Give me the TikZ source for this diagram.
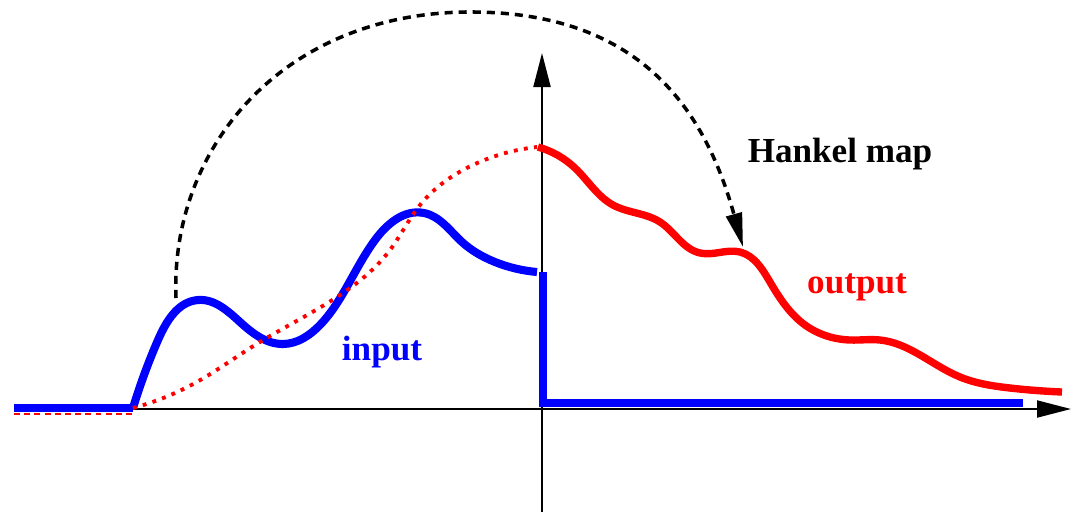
\documentclass[tikz,border=0pt]{standalone}
\usepackage{fontspec}
\setmainfont{Liberation Serif}
\usetikzlibrary{arrows.meta,hobby}
\tikzset{
  axisline/.style={line width=1.1pt, black, -{Triangle[length=0.68cm,width=0.34cm]}},
  inputline/.style={line width=4.6pt, blue},
  outputline/.style={line width=4.2pt, red, line join=round},
  dotline/.style={line width=2.2pt, red, dash pattern=on 2.2pt off 3.6pt},
  thindash/.style={line width=0.9pt, red, dash pattern=on 3.4pt off 2.4pt},
  hankel/.style={line width=2pt, black, dash pattern=on 4.6pt off 3.4pt, -{Triangle[length=0.68cm,width=0.32cm]}},
  lbl/.style={font=\fontsize{20}{24}\selectfont\bfseries, anchor=base, inner sep=0pt}
}
\begin{document}
\begin{tikzpicture}[x=0.02cm,y=-0.02cm]
\useasboundingbox (0,0) rectangle (1071,512);
% axes
\coordinate (xs) at (14,409);
\coordinate (xe) at (1071,409);
\coordinate (ys) at (542,512);
\coordinate (ye) at (542,53);
\draw[axisline] (xs) -- (xe);
\draw[axisline] (ys) -- (ye);
% red dashed past
\coordinate (rds) at (14,414);
\coordinate (rde) at (133,414);
\draw[thindash] (rds) -- (rde);
% input (blue)
\coordinate (bs) at (14,408);
\coordinate (bk) at (133,408);
\draw[inputline] (bs) -- (bk);
\draw[inputline, use Hobby shortcut] (bk) .. (158,340) .. (198,300) .. (240,322) .. (283,344) .. (320,325) .. (345,290) .. (375,240) .. (424,213) .. (462,242) .. (495,262) .. (537,272);
\coordinate (bv1) at (543,272);
\coordinate (bv2) at (543,403);
\coordinate (bv3) at (1023,403);
\draw[inputline] (bv1) -- (bv2) -- (bv3);
% red dotted
\draw[dotline, use Hobby shortcut] (133,408) .. (195,383) .. (255,345) .. (343,293) .. (390,250) .. (420,205) .. (475,164) .. (537,147);
% output (red)
\draw[outputline, use Hobby shortcut] (538,147) .. (575,168) .. (613,205) .. (660,222) .. (700,253) .. (740,252) .. (770,282) .. (805,325) .. (850,340) .. (880,340) .. (960,377) .. (1010,388) .. (1062,392);
% Hankel arc
\coordinate (hs) at (176,298);
\coordinate (he) at (743,247);
\draw[hankel] (hs) .. controls (170,150) and (280,15) .. (465,12) .. controls (640,10) and (705,110) .. (he);
% labels
\node[lbl, black] (hk) at (840,162) {Hankel map};
\node[lbl, red] (out) at (857,293) {output};
\node[lbl, blue] (in) at (382,360) {input};
\end{tikzpicture}
\end{document}
